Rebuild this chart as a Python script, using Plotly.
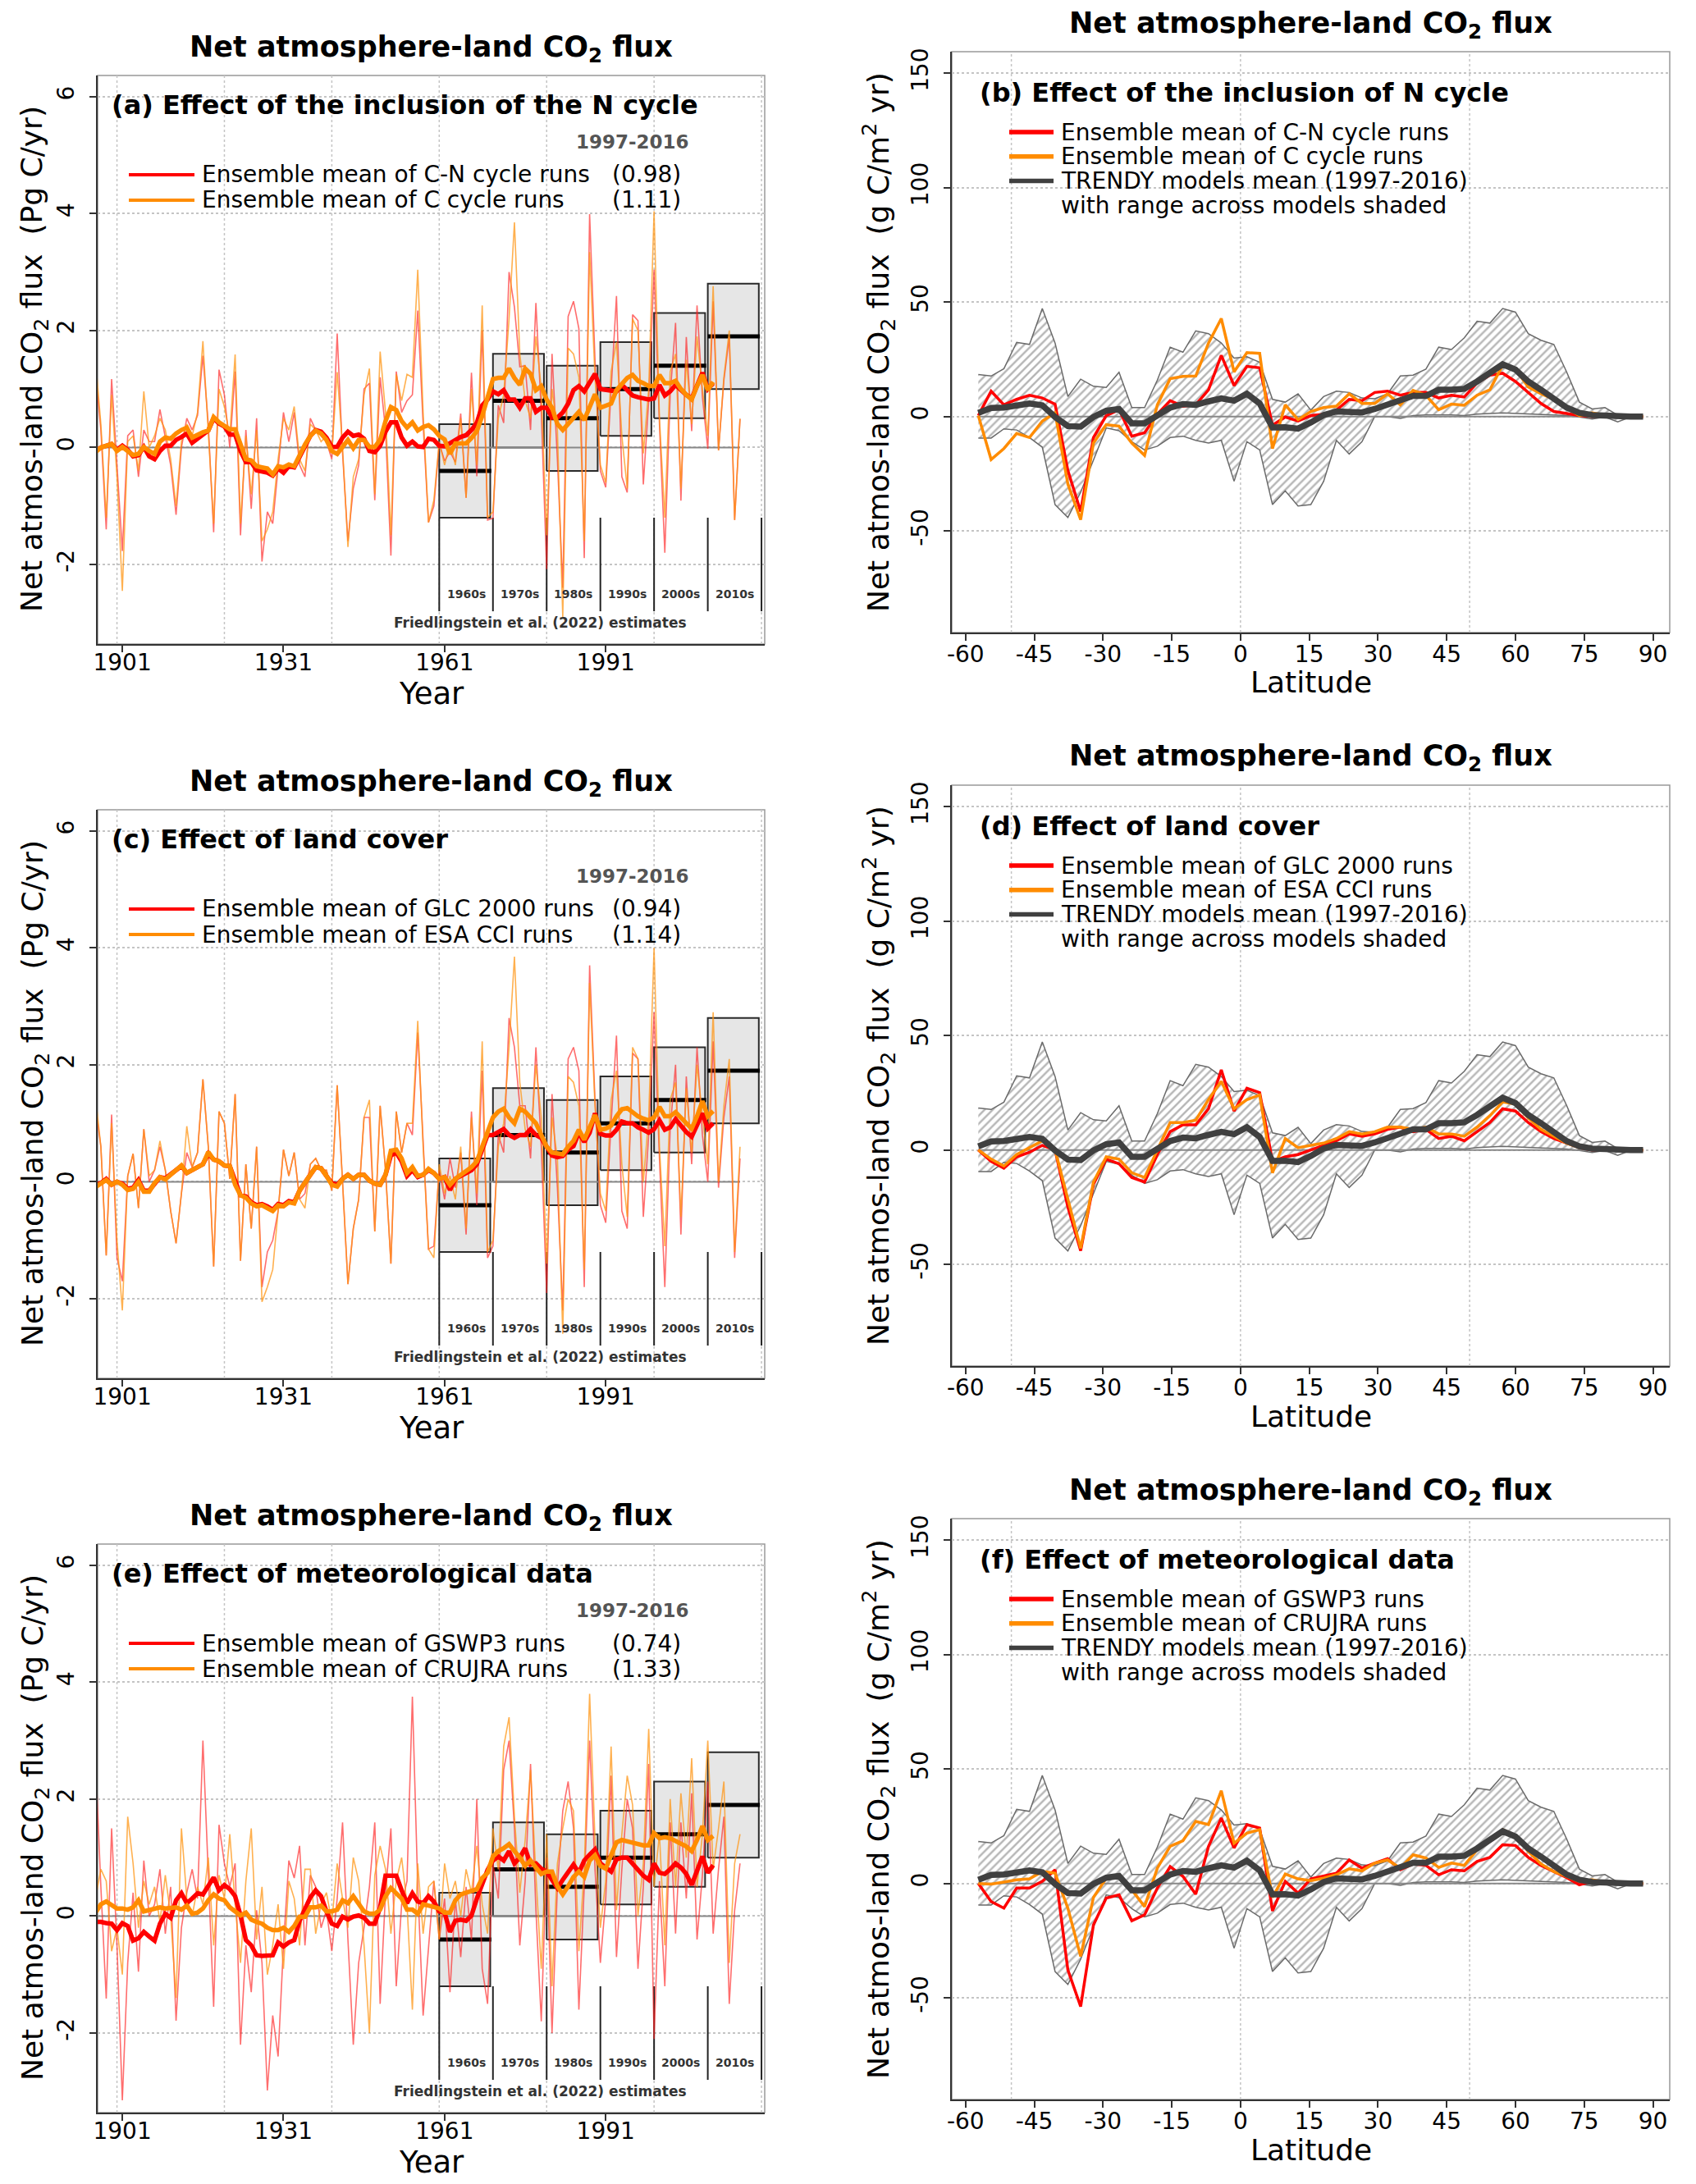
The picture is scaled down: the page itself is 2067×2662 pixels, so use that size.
import plotly.graph_objects as go

W, H = 2067, 2662
FONT = "DejaVu Sans"

# ---------------- time-series data (Pg C/yr) ----------------
YEAR0 = 1896  # first plotted year (axis clips at ~1896.4)

# Panel (a): C-N cycle (red) and C cycle (orange), annual values 1896-2016
A_CN_ANN = [1.3, 0.3, -1.4, 1.17, -0.3, -1.77, 0.2, 0.3, -0.5, 0.3,
            0.1, 0.1, 0.65, 0.2, -0.3, -1.15, 0.0, 0.5, 0.3, 0.55,
            1.57, 0.4, -1.45, 1.33, 0.9, 0.0, 1.3, -1.5, 0.3, -1.05,
            0.5, -1.95, -1.1, -1.3, -0.4, 0.6, 0.1, 0.6, -0.3, -0.5,
            0.5, 0.3, 0.2, 0.1, -0.2, 1.95, -0.1, -1.6, -0.7, -0.3,
            1.0, 1.1, -0.9, 1.2, 0.3, -1.85, 1.3, 0.6, 0.8, 0.9,
            2.34, 0.4, -1.28, -1.0, 0.07, -0.23, -0.07, -0.25, 0.58, -0.86,
            1.28, -0.49, 2.0, -1.24, -1.21, 0.72, 0.42, 3.0, 2.4, 1.38,
            1.4, 0.3, 2.47, 0.6, -2.08, 1.6, -0.2, -2.4, 2.24, 2.5,
            2.03, -1.89, 3.99, 1.5, -0.4, -0.68, 0.98, 2.59, -0.5, -0.77,
            2.27, 2.17, -0.63, 0.8, 3.04, 0.4, -1.8, 0.9, 2.13, -0.91,
            1.89, 0.28, 2.43, 0.86, -0.02, 2.5, -0.05, 1.15, 1.89, -1.24,
            0.49]
A_C_ANN = [1.5, 0.4, -1.2, 0.9, -0.5, -2.45, 0.1, 0.2, -0.4, 0.96,
           0.0, 0.2, 0.5, 0.3, -0.2, -1.0, 0.1, 0.4, 0.2, 0.6,
           1.82, 0.3, -1.3, 1.0, 0.7, 0.2, 1.59, -1.3, 0.2, -0.8,
           0.3, -1.6, -1.4, -1.1, -0.2, 0.5, 0.3, 0.7, -0.2, -0.4,
           0.4, 0.3, 0.1, 0.2, -0.1, 1.29, 0.0, -1.7, -0.5, -0.2,
           0.9, 1.35, -0.8, 1.64, 0.6, -1.5, 1.25, 0.8, 1.25, 1.2,
           3.04, 0.6, -1.28, -0.9, 0.1, -0.3, 0.1, -0.3, 0.5, -0.86,
           1.0, -0.3, 2.43, -1.2, -1.1, 0.5, 0.9, 2.2, 3.85, 1.6,
           0.8, 0.5, 1.9, 1.0, -1.5, 1.0, 0.3, -2.9, 1.7, 1.6,
           1.2, -1.6, 3.34, 1.2, -0.3, -0.6, 1.3, 1.8, 0.2, -0.7,
           2.2, 2.0, -0.1, 1.0, 4.04, 0.5, -1.2, 1.3, 1.6, -0.7,
           1.5, 0.4, 1.9, 1.0, 0.2, 2.76, -0.05, 1.2, 2.0, -1.24,
           0.49]
# smoothed values 1896-2011
A_CN_SM = [-0.06, 0.0, 0.03, 0.06, -0.04, 0.03, -0.04, -0.15, -0.13, 0.01,
           -0.15, -0.2, -0.06, 0.03, 0.03, 0.13, 0.18, 0.24, 0.08, 0.15,
           0.22, 0.29, 0.5, 0.41, 0.36, 0.22, 0.22, -0.06, -0.25, -0.25,
           -0.39, -0.41, -0.43, -0.48, -0.36, -0.43, -0.32, -0.34, -0.15, 0.0,
           0.2, 0.3, 0.27, 0.17, 0.01, 0.01, 0.17, 0.27, 0.2, 0.22,
           0.15, -0.06, -0.08, 0.03, 0.27, 0.43, 0.43, 0.17, 0.03, 0.10,
           0.02, 0.01, 0.15, 0.13, 0.03, 0.02, 0.07, 0.14, 0.18, 0.21,
           0.3, 0.42, 0.72, 0.82, 0.96, 0.91, 0.98, 0.82, 0.82, 0.68,
           0.84, 0.84, 0.61, 0.68, 0.68, 0.51, 0.51, 0.6, 0.75, 0.98,
           1.05, 0.96, 1.12, 1.26, 1.0, 0.99, 0.97, 0.96, 1.07, 0.98,
           0.89, 0.86, 0.84, 0.82, 0.84, 1.07, 0.89, 0.96, 1.07, 0.98,
           0.9, 0.84, 1.05, 1.28, 1.0, 1.1]
A_C_SM = [-0.08, 0.0, 0.03, 0.06, -0.06, 0.01, -0.06, -0.13, -0.11, 0.01,
          -0.06, -0.11, 0.1, 0.17, 0.15, 0.24, 0.3, 0.34, 0.17, 0.22,
          0.26, 0.29, 0.52, 0.43, 0.38, 0.31, 0.31, 0.03, -0.2, -0.22,
          -0.32, -0.34, -0.36, -0.46, -0.32, -0.34, -0.29, -0.32, -0.13, 0.05,
          0.2, 0.29, 0.24, 0.13, -0.06, -0.11, 0.01, 0.13, -0.01, 0.13,
          0.13, 0.01, 0.01, 0.13, 0.45, 0.69, 0.64, 0.45, 0.34, 0.43,
          0.29, 0.35, 0.38, 0.31, 0.2, 0.14, -0.11, 0.07, 0.07, 0.07,
          0.16, 0.28, 0.54, 0.86, 1.17, 1.19, 1.19, 1.35, 1.19, 1.07,
          1.35, 1.26, 0.98, 1.05, 0.82, 0.68, 0.4, 0.3, 0.4, 0.5,
          0.61, 0.47, 0.68, 0.91, 0.68, 0.72, 0.75, 0.98, 1.1, 1.19,
          1.24, 1.14, 1.1, 1.05, 1.05, 1.24, 1.1, 1.1, 1.14, 1.0,
          0.9, 0.82, 1.05, 1.24, 0.98, 1.12]

# Panel (c): GLC 2000 (red) and ESA CCI (orange)
C_GLC_ANN = [1.3, 0.6, -1.26, 1.15, -1.3, -1.7, 0.1, 0.48, -0.45, 0.9,
             0.0, 0.2, 0.6, 0.2, -0.5, -1.05, -0.2, 0.5, 0.25, 0.5,
             1.75, 0.6, -1.45, 1.2, 1.0, 0.05, 1.5, -1.35, 0.3, -0.8,
             0.6, -1.8, -1.2, -1.0, -0.5, 0.55, 0.1, 0.5, -0.3, -0.2,
             0.3, 0.4, 0.2, 0.2, -0.15, 1.65, 0.0, -1.75, -0.8, -0.3,
             1.1, 1.1, -0.85, 1.3, 0.2, -1.4, 1.2, 0.5, 1.0, 0.8,
             2.55, 0.6, -1.15, -1.1, 0.2, -0.3, 0.4, -0.1, 0.5, -0.9,
             1.2, -0.4, 1.9, -1.3, -1.1, 0.8, 0.5, 2.8, 2.3, 1.3,
             1.3, 0.4, 2.3, 0.6, -1.9, 1.5, -0.1, -2.2, 2.1, 2.3,
             1.9, -1.8, 3.7, 1.4, -0.4, -0.7, 1.0, 2.5, -0.5, -0.8,
             2.2, 2.1, -0.6, 0.8, 2.9, 0.4, -1.8, 0.9, 2.0, -0.9,
             1.8, 0.3, 2.3, 0.8, 0.0, 2.4, -0.1, 1.1, 1.8, -1.3,
             0.4]
C_ESA_ANN = [1.45, 0.6, -1.26, 1.0, -1.0, -2.2, 0.1, 0.48, -0.45, 0.9,
             0.1, 0.2, 0.7, 0.2, -0.5, -1.05, -0.2, 0.95, 0.25, 0.5,
             1.75, 0.6, -1.45, 1.2, 1.0, 0.05, 1.5, -1.35, 0.3, -0.8,
             0.6, -2.05, -1.8, -1.5, -0.5, 0.55, 0.1, 0.5, -0.3, -0.45,
             0.3, 0.4, 0.2, 0.2, -0.15, 1.65, 0.0, -1.75, -0.8, -0.3,
             1.1, 1.4, -0.85, 1.3, 0.2, -1.4, 1.2, 0.5, 1.0, 1.0,
             2.75, 0.6, -1.15, -1.3, 0.3, -0.2, 0.1, -0.3, 0.6, -0.8,
             1.1, -0.2, 2.4, -1.2, -1.0, 0.6, 1.0, 2.3, 3.85, 1.7,
             0.9, 0.6, 2.0, 1.1, -1.4, 1.1, 0.4, -2.6, 1.8, 1.7,
             1.3, -1.5, 3.4, 1.3, -0.2, -0.5, 1.4, 1.9, 0.3, -0.6,
             2.3, 2.1, 0.0, 1.1, 4.0, 0.6, -1.1, 1.4, 1.7, -0.6,
             1.6, 0.5, 2.0, 1.1, 0.3, 2.9, 0.0, 1.3, 2.1, -1.2,
             0.6]
C_GLC_SM = [-0.05, -0.02, 0.05, -0.05, 0.0, -0.03, -0.12, -0.1, 0.03, -0.15,
            -0.15, -0.02, 0.08, 0.06, 0.12, 0.2, 0.27, 0.15, 0.2, 0.24,
            0.3, 0.48, 0.38, 0.35, 0.28, 0.27, 0.0, -0.23, -0.25, -0.35,
            -0.4, -0.38, -0.42, -0.48, -0.38, -0.4, -0.33, -0.35, -0.15, 0.0,
            0.12, 0.25, 0.23, 0.1, -0.02, -0.05, 0.05, 0.12, 0.05, 0.12,
            0.12, 0.02, -0.03, -0.05, 0.12, 0.45, 0.5, 0.35, 0.1, 0.2,
            0.08, 0.12, 0.2, 0.15, 0.05, 0.08, -0.14, 0.05, 0.1, 0.15,
            0.2, 0.3, 0.55, 0.8, 0.8, 0.85, 0.9, 0.8, 0.75, 0.8,
            0.8, 0.9, 0.8, 0.75, 0.6, 0.45, 0.42, 0.44, 0.55, 0.61,
            0.84, 0.68, 0.84, 1.17, 0.82, 0.79, 0.79, 0.89, 1.03, 1.0,
            1.0, 0.93, 0.89, 0.84, 0.9, 1.05, 0.89, 0.93, 1.07, 0.96,
            0.85, 0.77, 0.98, 1.17, 0.91, 1.0]
C_ESA_SM = [-0.09, -0.04, 0.03, -0.05, 0.0, -0.05, -0.14, -0.12, 0.0, -0.17,
            -0.17, -0.02, 0.08, 0.04, 0.12, 0.2, 0.28, 0.15, 0.2, 0.24,
            0.3, 0.51, 0.38, 0.35, 0.28, 0.27, -0.05, -0.23, -0.27, -0.37,
            -0.42, -0.4, -0.44, -0.5, -0.4, -0.42, -0.35, -0.37, -0.15, 0.0,
            0.12, 0.25, 0.23, 0.1, -0.05, -0.08, 0.05, 0.12, 0.05, 0.12,
            0.12, 0.02, -0.03, -0.05, 0.12, 0.53, 0.55, 0.4, 0.15, 0.25,
            0.1, 0.12, 0.22, 0.15, 0.05, 0.08, -0.05, 0.05, 0.12, 0.18,
            0.25, 0.35, 0.6, 0.9, 1.1, 1.2, 1.25, 1.1, 1.0, 1.25,
            1.2, 1.1, 1.0, 0.8, 0.6, 0.5, 0.48, 0.47, 0.6, 0.7,
            0.89, 0.72, 0.93, 1.14, 0.89, 0.91, 0.96, 1.12, 1.24, 1.26,
            1.19, 1.12, 1.08, 1.05, 1.1, 1.28, 1.12, 1.12, 1.19, 1.1,
            1.0, 0.91, 1.12, 1.38, 1.12, 1.21]

# Panel (e): GSWP3 (red) and CRUJRA (orange)
E_GSW_ANN = [2.7, 0.5, -1.41, 1.5, -0.5, -3.15, -0.8, 0.4, -0.95, 0.95,
             0.0, 0.2, 0.8, -0.3, 0.5, -1.79, -0.2, 0.4, 0.8, 0.3,
             3.0, 0.6, -1.55, 1.56, 0.9, 0.5, 0.9, -2.2, -0.5, -1.3,
             0.1, -0.8, -2.98, -1.7, -2.4, -0.5, 0.95, 0.65, 1.2, -0.5,
             0.7, 0.5, -0.2, 0.1, -0.6, 0.3, 1.6, -0.4, -2.2, -0.8,
             -0.2, 0.5, 1.6, -1.5, 0.4, 1.5, -1.2, 0.2, 0.6, 3.75,
             0.5, -1.7, -0.5, 0.6, -0.4, 0.3, -1.3, 0.3, -0.7, 0.5,
             -0.4, 2.0, -0.9, -1.5, 0.9, 0.3, 2.5, 3.0, 1.5, -0.5,
             0.6, 2.6, 0.1, -1.8, 1.0, -2.0, 0.5, 1.8, 2.3, 1.5,
             -1.6, 0.5, 3.0, 0.8, -0.8, 0.3, 2.4, -0.7, 0.8, 2.0,
             1.5, -0.9, 0.5, 2.6, -2.1, 0.6, -1.2, 1.6, -0.3, 1.6,
             0.3, 2.1, -0.4, 0.7, 2.3, -0.3, 0.8, 1.7, -1.5, 0.1,
             0.9]
E_CRU_ANN = [0.3, 0.8, 0.6, -0.6, -0.2, -1.0, 1.7, 0.9, -0.2, 0.6,
             0.2, 0.5, -0.1, 0.7, 0.0, -1.4, 1.5, 0.3, 0.0, 0.5,
             0.2, 1.0, -0.5, 0.7, 0.3, 1.4, 0.2, -0.8, 0.6, 1.5,
             -0.4, 0.5, -1.0, -0.5, 0.2, -0.9, 0.6, 0.3, -0.5, 0.8,
             0.8, -0.3, 0.2, 0.4, -0.1, 0.9, 0.3, -0.2, 1.0, 0.6,
             -0.5, -2.0, 0.7, 1.2, 0.8, -0.3, 0.6, 1.0, 0.2, -1.6,
             0.9, -0.3, 0.5, 0.6, -0.4, 0.9, 0.3, 0.6, 0.0, 0.8,
             0.4, 1.2, 0.2, -0.3, 1.5, 0.8, 2.9, 3.4, 1.7, 0.4,
             1.3, 2.5, 0.7, -0.9, 1.4, -1.2, 0.9, 1.5, 2.0, 1.8,
             -0.6, 0.8, 3.8, 1.3, -0.2, 0.6, 2.9, 0.1, 1.4, 2.4,
             1.9, 0.0, 0.9, 3.2, 0.5, 1.4, -0.5, 2.0, 0.5, 2.1,
             1.0, 2.7, 0.5, 1.4, 3.0, 0.8, 1.5, 2.3, -0.8, 0.9,
             1.4]
E_GSW_SM = [-0.1, -0.1, -0.12, -0.13, -0.24, -0.12, -0.17, -0.42, -0.38, -0.27,
            -0.35, -0.42, -0.13, 0.04, -0.03, 0.27, 0.39, 0.22, 0.3, 0.39,
            0.37, 0.5, 0.66, 0.44, 0.53, 0.46, 0.34, 0.01, -0.41, -0.5,
            -0.67, -0.68, -0.68, -0.67, -0.45, -0.52, -0.45, -0.41, -0.08, 0.13,
            0.32, 0.44, 0.34, 0.08, -0.13, -0.17, -0.01, -0.06, -0.01, 0.01,
            -0.03, -0.13, -0.13, 0.15, 0.69, 0.69, 0.69, 0.44, 0.22, 0.39,
            0.25, 0.22, 0.34, 0.25, 0.08, 0.06, -0.27, -0.08, -0.06, -0.08,
            0.01, 0.3, 0.53, 0.79, 0.95, 1.02, 0.95, 1.11, 0.9, 1.0,
            1.16, 0.88, 0.9, 0.81, 0.76, 0.62, 0.48, 0.62, 0.74, 0.88,
            0.74, 0.95, 1.05, 1.14, 0.9, 0.83, 0.76, 0.97, 1.0, 1.0,
            0.9, 0.79, 0.69, 0.62, 0.9, 0.74, 0.72, 0.8, 0.9, 0.83,
            0.72, 0.53, 0.76, 1.02, 0.74, 0.87]
E_CRU_SM = [0.06, 0.2, 0.25, 0.18, 0.13, 0.13, 0.11, 0.15, 0.27, 0.08,
            0.1, 0.13, 0.15, 0.13, 0.14, 0.15, 0.11, 0.18, 0.04, 0.06,
            0.13, 0.27, 0.37, 0.3, 0.27, 0.15, 0.08, 0.01, 0.06, -0.06,
            -0.1, -0.13, -0.2, -0.24, -0.24, -0.2, -0.27, -0.17, -0.01, -0.01,
            0.15, 0.15, 0.18, 0.08, 0.08, 0.11, 0.27, 0.22, 0.34, 0.22,
            0.08, 0.04, 0.04, 0.11, 0.34, 0.48, 0.4, 0.3, 0.11, 0.11,
            0.04, 0.2, 0.18, 0.15, 0.13, 0.06, 0.06, 0.27, 0.37, 0.4,
            0.44, 0.46, 0.65, 0.74, 1.02, 1.11, 1.16, 1.23, 1.11, 1.0,
            0.86, 0.95, 0.83, 0.72, 0.76, 0.76, 0.51, 0.37, 0.51, 0.67,
            0.76, 0.67, 0.95, 1.04, 0.86, 0.81, 1.04, 1.26, 1.3, 1.28,
            1.25, 1.23, 1.21, 1.21, 1.42, 1.33, 1.35, 1.33, 1.28, 1.23,
            1.19, 1.11, 1.3, 1.54, 1.3, 1.37]

# Friedlingstein et al. (2022) decadal estimates
DEC_START = [1960, 1970, 1980, 1990, 2000, 2010]
DEC_MEAN = [-0.4, 0.8, 0.5, 1.0, 1.4, 1.9]
DEC_UNC = [0.8, 0.8, 0.9, 0.8, 0.9, 0.9]
DEC_LABELS = ["1960s", "1970s", "1980s", "1990s", "2000s", "2010s"]

# ---------------- latitudinal data (g C/m2 yr) ----------------
LATS = [-57.21, -54.42, -51.63, -48.84, -46.04, -43.25, -40.46, -37.67, -34.88, -32.09,
        -29.30, -26.51, -23.72, -20.93, -18.14, -15.35, -12.56, -9.77, -6.98, -4.19,
        -1.40, 1.40, 4.19, 6.98, 9.77, 12.56, 15.35, 18.14, 20.93, 23.72,
        26.51, 29.30, 32.09, 34.88, 37.67, 40.46, 43.25, 46.04, 48.84, 51.63,
        54.42, 57.21, 60.00, 62.79, 65.58, 68.37, 71.16, 73.95, 76.74, 79.53,
        82.31, 85.10, 87.86]
TRENDY_MEAN = [1.6, 3.7, 3.9, 4.5, 5.7, 4.9, -0.2, -4.2, -4.4, -0.2,
               2.5, 3.3, -3.0, -3.0, 0.4, 3.9, 5.4, 5.1, 6.6, 7.9,
               6.9, 9.9, 5.7, -4.8, -4.7, -5.3, -2.6, 0.6, 2.2, 1.9,
               1.8, 3.3, 5.4, 7.5, 9.0, 9.0, 11.7, 11.7, 12.1, 15.3,
               18.9, 22.8, 20.5, 15.3, 11.7, 7.8, 3.9, 1.6, 0.6, 0.4,
               0.0, 0.0, 0.0]
TRENDY_MAX = [18.3, 17.7, 20.9, 32.4, 31.5, 47.2, 32.1, 8.7, 16.3, 13.2,
              12.7, 19.3, 3.9, 3.9, 15.9, 30.3, 28.1, 37.4, 36.2, 32.1,
              25.5, 26.1, 23.7, 7.5, 6.3, 9.9, 2.8, 8.7, 11.1, 10.5,
              8.1, 7.8, 9.9, 17.7, 18.1, 20.7, 30.3, 29.3, 34.4, 41.6,
              40.8, 47.2, 45.6, 36.2, 33.3, 31.5, 19.5, 6.3, 3.3, 3.9,
              0.6, 0.0, 0.0]
TRENDY_MIN = [-9.4, -9.4, -5.4, -5.9, -9.2, -13.4, -38.5, -44.1, -33.1, -18.8,
              -5.0, -6.2, -11.0, -14.6, -13.0, -9.2, -8.6, -10.4, -11.6, -10.4,
              -28.3, -11.0, -14.6, -38.5, -32.5, -39.1, -38.5, -28.3, -10.4, -16.4,
              -11.0, 0.0, 0.0, -0.8, 0.4, 0.7, 0.7, 0.7, 0.4, 1.0,
              1.3, 1.6, 1.3, 1.1, 0.8, 0.6, 0.4, -0.2, -1.1, -0.2,
              -2.3, -0.2, 0.0]
B_CN = [0.4, 11.1, 5.1, 7.5, 9.3, 8.1, 5.4, -23.6, -41.5, -9.2,
        0.4, 3.0, -8.6, -7.1, 1.0, 6.9, 4.5, 5.1, 11.7, 26.7,
        13.5, 21.9, 21.3, -3.8, -0.2, -2.0, 0.4, 1.0, 2.8, 7.5,
        6.9, 10.5, 11.1, 9.3, 10.5, 10.5, 8.1, 9.3, 8.5, 14.7,
        18.1, 18.9, 15.3, 10.5, 5.7, 2.2, 1.3, 0.4, 0.0, 0.0,
        0.0, 0.0, 0.0]
B_C = [0.4, -18.8, -14.0, -7.4, -9.2, -2.0, 1.6, -29.5, -45.1, -11.6,
       -3.6, -4.2, -11.6, -17.0, 5.1, 16.5, 17.5, 17.7, 32.1, 42.8,
       19.5, 27.9, 27.6, -14.0, 5.1, -1.4, 2.2, 3.9, 4.5, 9.9,
       5.7, 5.7, 9.9, 5.1, 11.4, 9.3, 3.0, 5.4, 4.9, 9.3,
       11.7, 22.5, 20.7, 12.9, 9.9, 7.5, 3.9, 0.4, 1.6, 0.6,
       0.0, 0.0, 0.0]
D_GLC = [0, -5, -8, -3, -1, 2, 0, -25, -44, -15,
         -4, -6, -12, -14, -2, 8, 11, 11, 18, 35,
         17, 27, 25, -5, -3, -2, 0, 2, 4, 7,
         6, 7, 9, 10, 8, 9, 5, 6, 4, 8,
         12, 18, 17, 12, 8, 5, 3, 1, 0, 0,
         0, 0, 0]
D_ESA = [0, -4, -7, -2, 1, 4, 0, -22, -43, -14,
         -3, -4, -10, -12, 0, 12, 12, 13, 22, 30,
         18, 22, 24, -10, 5, 1, 2, 3, 5, 8,
         7, 8, 10, 10, 9, 10, 7, 7, 6, 10,
         15, 21, 20, 14, 9, 6, 3, 1, 0.5, 0,
         0, 0, 0]
F_GSW = [0.0, -7.9, -10.8, -2.0, -2.0, 0.9, 6.0, -37.8, -53.8, -18.1,
         -6.4, -5.0, -16.3, -13.7, -2.0, 7.4, 3.1, -4.7, 16.2, 28.6,
         15.5, 25.7, 24.2, -12.0, 0.9, -4.2, 2.0, 3.1, 4.5, 10.3,
         6.7, 8.9, 10.8, 6.0, 8.5, 7.9, 3.8, 6.0, 5.5, 9.6,
         11.4, 16.9, 16.6, 11.4, 7.9, 5.2, 2.6, -0.6, 0.9, 0.0,
         0.0, 0.0, 0.0]
F_CRU = [0.0, -0.3, 0.6, 1.6, 2.0, 5.2, 4.5, -10.8, -31.9, -6.1,
         2.3, 3.8, -2.8, -10.1, 6.7, 16.2, 18.7, 27.1, 25.7, 40.5,
         17.6, 22.0, 23.5, -6.1, 4.1, 2.0, 1.2, 2.3, 3.8, 6.4,
         5.5, 8.9, 10.3, 6.7, 12.5, 11.1, 7.0, 8.9, 7.9, 14.7,
         18.4, 23.5, 21.0, 14.0, 8.5, 5.2, 3.1, 0.9, 1.6, 0.6,
         0.0, 0.0, 0.0]

# ---------------- ticks and grid positions ----------------
L_XTICKS = [1901, 1931, 1961, 1991]
L_YTICKS = [-2, 0, 2, 4, 6]
L_XGRID = [1900, 1920, 1940, 1960, 1980, 2000, 2020]
R_XTICKS = [-60, -45, -30, -15, 0, 15, 30, 45, 60, 75, 90]
R_YTICKS = [-50, 0, 50, 100, 150]
R_XGRID = [-50, 0, 50]

# ---------------- panel text ----------------
LEFT_PANELS = [
    dict(label="(a) Effect of the inclusion of the N cycle",
         names=["Ensemble mean of C-N cycle runs", "Ensemble mean of C cycle runs"],
         means=["(0.98)", "(1.11)"], ann=[A_CN_ANN, A_C_ANN], sm=[A_CN_SM, A_C_SM]),
    dict(label="(c) Effect of land cover",
         names=["Ensemble mean of GLC 2000 runs", "Ensemble mean of ESA CCI runs"],
         means=["(0.94)", "(1.14)"], ann=[C_GLC_ANN, C_ESA_ANN], sm=[C_GLC_SM, C_ESA_SM]),
    dict(label="(e) Effect of meteorological data",
         names=["Ensemble mean of GSWP3 runs", "Ensemble mean of CRUJRA runs"],
         means=["(0.74)", "(1.33)"], ann=[E_GSW_ANN, E_CRU_ANN], sm=[E_GSW_SM, E_CRU_SM]),
]
RIGHT_PANELS = [
    dict(label="(b) Effect of the inclusion of N cycle",
         names=["Ensemble mean of C-N cycle runs", "Ensemble mean of C cycle runs"],
         vals=[B_CN, B_C]),
    dict(label="(d) Effect of land cover",
         names=["Ensemble mean of GLC 2000 runs", "Ensemble mean of ESA CCI runs"],
         vals=[D_GLC, D_ESA]),
    dict(label="(f) Effect of meteorological data",
         names=["Ensemble mean of GSWP3 runs", "Ensemble mean of CRUJRA runs"],
         vals=[F_GSW, F_CRU]),
]
TRENDY_NAMES = ["TRENDY models mean (1997-2016)", "with range across models shaded"]
TITLE = "<b>Net atmosphere-land CO<sub>2</sub> flux</b>"

# ---------------- styling / layout constants ----------------
RED, ORANGE, DARK = "#ff0000", "#ff8c00", "#404040"
RED_T, ORANGE_T = "rgba(255,30,30,0.65)", "rgba(255,150,20,0.75)"
GRID = "#c4c4c4"

L_X = (119, 932)
R_X = (1160, 2035)
L_ROW_TOP, L_ROW_H, L_STEP = 92, 693, 895
R_ROW_TOP, R_ROW_H, R_STEP = 63, 708, 894

L_XRANGE = [1896.4, 2020.6]
L_YRANGE = [-3.36, 6.36]
R_XRANGE = [-63.0, 93.67]
R_YRANGE = [-94.4, 159.4]

BOX_W = 9.5
FRIED_TOP, FRIED_BOT = -1.2, -2.8


def fx(p):
    return p / W


def fy(p):
    return 1 - p / H


fig = go.Figure()
annotations = []
shapes = []


def text(t, x, y, size, color="black", xanchor="center", yanchor="middle", angle=0):
    annotations.append(dict(text=t, x=fx(x), y=fy(y), xref="paper", yref="paper",
                            showarrow=False, xanchor=xanchor, yanchor=yanchor,
                            textangle=angle, font=dict(family=FONT, size=size, color=color)))


def legline(x0, x1, y, color, width):
    shapes.append(dict(type="line", xref="paper", yref="paper", x0=fx(x0), x1=fx(x1),
                       y0=fy(y), y1=fy(y), line=dict(color=color, width=width)))


def vgrid(xa, ya, positions):
    for g in positions:
        shapes.append(dict(type="line", xref=xa, yref=f"{ya} domain", x0=g, x1=g, y0=0, y1=1,
                           line=dict(color=GRID, width=1.5, dash="dot"), layer="below"))


axis_common = dict(ticks="outside", ticklen=8, tickwidth=2, tickcolor="#333",
                   showline=True, linecolor="#333", linewidth=2, zeroline=False,
                   automargin=False,
                   tickfont=dict(family=FONT, size=28, color="black"))

layout_axes = {}

for r in range(3):
    # ---------------- left panel ----------------
    idx = 2 * r + 1
    xa = "x" if idx == 1 else f"x{idx}"
    ya = "y" if idx == 1 else f"y{idx}"
    top = L_ROW_TOP + r * L_STEP
    bot = top + L_ROW_H
    P = LEFT_PANELS[r]
    layout_axes["xaxis" if idx == 1 else f"xaxis{idx}"] = dict(
        axis_common, domain=[fx(L_X[0]), fx(L_X[1])], range=L_XRANGE, anchor=ya,
        tickmode="array", tickvals=L_XTICKS, ticktext=[str(v) for v in L_XTICKS],
        showgrid=False, ticklabelstandoff=-12)
    layout_axes["yaxis" if idx == 1 else f"yaxis{idx}"] = dict(
        axis_common, domain=[fy(bot), fy(top)], range=L_YRANGE, anchor=xa,
        tickmode="array", tickvals=L_YTICKS, ticktext=[str(v) for v in L_YTICKS],
        tickangle=-90, ticklabelstandoff=8,
        showgrid=True, gridcolor=GRID, griddash="dot", gridwidth=1.5)
    shapes.append(dict(type="rect", xref=f"{xa} domain", yref=f"{ya} domain",
                       x0=0, x1=1, y0=0, y1=1, line=dict(color="#999", width=1.5), layer="below"))
    vgrid(xa, ya, L_XGRID)

    # decadal boxes
    for s, m, u in zip(DEC_START, DEC_MEAN, DEC_UNC):
        fig.add_trace(go.Scatter(x=[s, s + BOX_W, s + BOX_W, s, s],
                                 y=[m - u, m - u, m + u, m + u, m - u],
                                 mode="lines", fill="toself", fillcolor="#e6e6e6",
                                 line=dict(color="#2a2a2a", width=2), xaxis=xa, yaxis=ya,
                                 hoverinfo="skip"))
        fig.add_trace(go.Scatter(x=[s, s + BOX_W + 0.2], y=[m, m], mode="lines",
                                 line=dict(color="black", width=5), xaxis=xa, yaxis=ya))
    for s in DEC_START + [DEC_START[-1] + 10]:
        fig.add_trace(go.Scatter(x=[s, s], y=[FRIED_TOP, FRIED_BOT], mode="lines",
                                 line=dict(color="#222", width=2), xaxis=xa, yaxis=ya))
    for s, lab in zip(DEC_START, DEC_LABELS):
        annotations.append(dict(text=f"<b>{lab}</b>", x=s + 5, y=-2.5, xref=xa, yref=ya,
                                showarrow=False, font=dict(family=FONT, size=14, color="#333")))
    annotations.append(dict(text="<b>Friedlingstein et al. (2022) estimates</b>",
                            x=1978.8, y=-3.0, xref=xa, yref=ya, showarrow=False,
                            font=dict(family=FONT, size=17, color="#333")))

    yrs_ann = list(range(YEAR0, YEAR0 + len(P["ann"][0])))
    # zero line
    fig.add_trace(go.Scatter(x=[yrs_ann[0], yrs_ann[-1]], y=[0, 0], mode="lines",
                             line=dict(color="#888", width=2), xaxis=xa, yaxis=ya))
    for series, col in zip(P["ann"], [RED_T, ORANGE_T]):
        yrs = list(range(YEAR0, YEAR0 + len(series)))
        fig.add_trace(go.Scatter(x=yrs, y=series, mode="lines",
                                 line=dict(color=col, width=1.6), xaxis=xa, yaxis=ya))
    for series, col in zip(P["sm"], [RED, ORANGE]):
        yrs = list(range(YEAR0, YEAR0 + len(series)))
        fig.add_trace(go.Scatter(x=yrs, y=series, mode="lines",
                                 line=dict(color=col, width=5.5), xaxis=xa, yaxis=ya))

    oy = r * L_STEP
    text(TITLE, (L_X[0] + L_X[1]) / 2, 60 + oy, 35)
    text(f"<b>{P['label']}</b>", 134, 128 + oy, 32, xanchor="left")
    text("<b>1997-2016</b>", 771, 173 + oy, 23, color="#555")
    for k, (nm, mv, col) in enumerate(zip(P["names"], P["means"], [RED, ORANGE])):
        yy = 213 + 31 * k + oy
        legline(157, 237, yy, col, 4)
        text(nm, 244, yy, 28, xanchor="left")
        text(mv, 744, yy, 28, xanchor="left")
    text("Net atmos-land CO<sub>2</sub> flux  (Pg C/yr)", 42, 438 + oy, 36, angle=-90)
    text("Year", (L_X[0] + L_X[1]) / 2, 845 + oy, 37)

    # ---------------- right panel ----------------
    idx = 2 * r + 2
    xa, ya = f"x{idx}", f"y{idx}"
    top = R_ROW_TOP + r * R_STEP
    bot = top + R_ROW_H
    P = RIGHT_PANELS[r]
    layout_axes[f"xaxis{idx}"] = dict(
        axis_common, domain=[fx(R_X[0]), fx(R_X[1])], range=R_XRANGE, anchor=ya,
        tickmode="array", tickvals=R_XTICKS, ticktext=[str(v) for v in R_XTICKS],
        showgrid=False, ticklabelstandoff=-8)
    layout_axes[f"yaxis{idx}"] = dict(
        axis_common, domain=[fy(bot), fy(top)], range=R_YRANGE, anchor=xa,
        tickmode="array", tickvals=R_YTICKS, ticktext=[str(v) for v in R_YTICKS],
        tickangle=-90, ticklabelstandoff=8,
        showgrid=True, gridcolor=GRID, griddash="dot", gridwidth=1.5)
    shapes.append(dict(type="rect", xref=f"{xa} domain", yref=f"{ya} domain",
                       x0=0, x1=1, y0=0, y1=1, line=dict(color="#999", width=1.5), layer="below"))
    vgrid(xa, ya, R_XGRID)

    fig.add_trace(go.Scatter(x=LATS + LATS[::-1], y=TRENDY_MAX + TRENDY_MIN[::-1],
                             mode="lines", fill="toself", fillcolor="white",
                             fillpattern=dict(shape="/", fgcolor="#6e6e6e", bgcolor="white",
                                              size=7, solidity=0.35),
                             line=dict(color="#6a6a6a", width=1.5), xaxis=xa, yaxis=ya,
                             hoverinfo="skip"))
    fig.add_trace(go.Scatter(x=[LATS[0], LATS[-1]], y=[0, 0], mode="lines",
                             line=dict(color="#888", width=2), xaxis=xa, yaxis=ya))
    for series, col in zip(P["vals"], [RED, ORANGE]):
        fig.add_trace(go.Scatter(x=LATS, y=series, mode="lines",
                                 line=dict(color=col, width=3.5), xaxis=xa, yaxis=ya))
    fig.add_trace(go.Scatter(x=LATS, y=TRENDY_MEAN, mode="lines",
                             line=dict(color=DARK, width=7.5), xaxis=xa, yaxis=ya))

    oy = r * R_STEP
    text(TITLE, (R_X[0] + R_X[1]) / 2, 30 + oy, 35)
    text(f"<b>{P['label']}</b>", 1192, 113 + oy, 32, xanchor="left")
    for k, (nm, col) in enumerate(zip(P["names"] + [TRENDY_NAMES[0]], [RED, ORANGE, DARK])):
        yy = 161 + 29.7 * k + oy
        legline(1230, 1284, yy, col, 5.5)
        text(nm, 1291, yy, 28, xanchor="left")
    text(TRENDY_NAMES[1], 1291, 161 + 29.7 * 3 + oy, 28, xanchor="left")
    text("Net atmos-land CO<sub>2</sub> flux  (g C/m<sup>2</sup> yr)", 1071, 417 + oy, 36, angle=-90)
    text("Latitude", (R_X[0] + R_X[1]) / 2, 832 + oy, 36)

fig.update_layout(width=W, height=H, margin=dict(l=0, r=0, t=0, b=0),
                  plot_bgcolor="white", paper_bgcolor="white", showlegend=False,
                  font=dict(family=FONT), annotations=annotations, shapes=shapes,
                  **layout_axes)
# remove the browser's default 8px page margin so the figure sits at the page origin
fig.write_html("out.html", config={"displayModeBar": False},
               post_script="document.body.style.margin='0px';")
